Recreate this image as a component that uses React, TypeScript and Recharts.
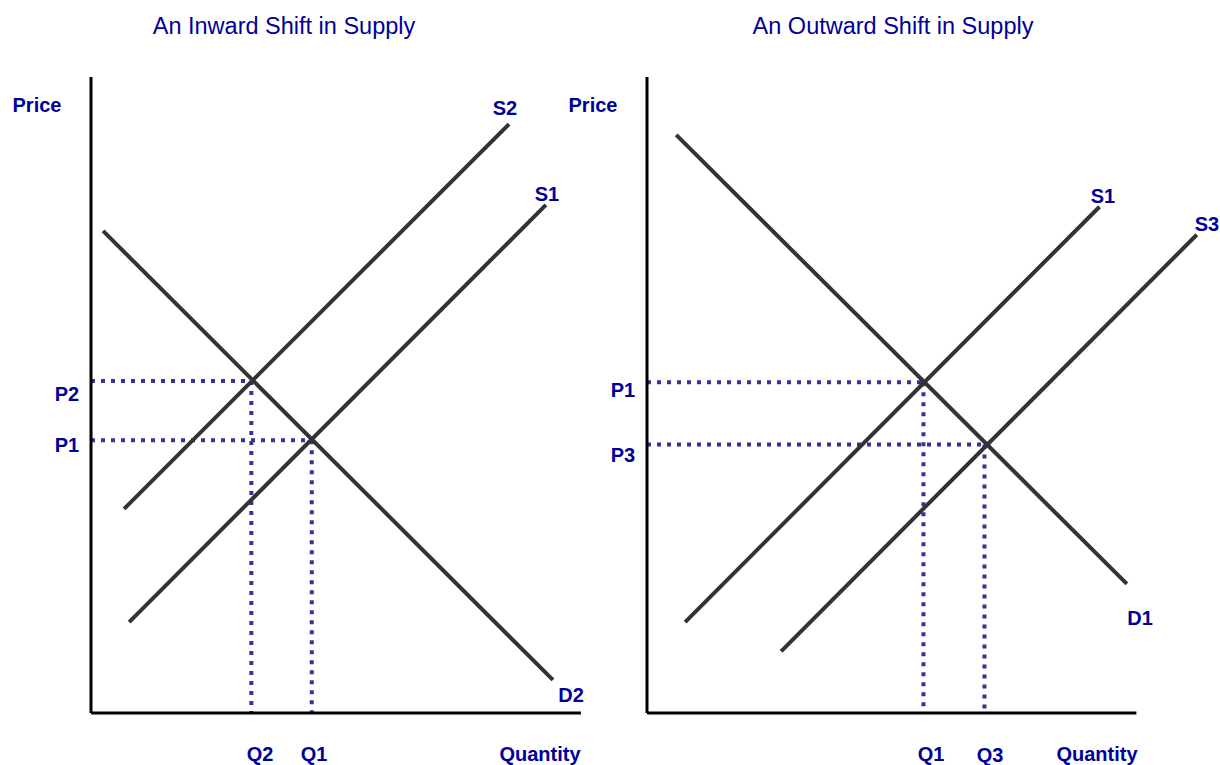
import React from "react";
import { LineChart, Line, XAxis, YAxis, ReferenceLine } from "recharts";

type Pt = { q: number; p: number };

// --- data (price / quantity units, axis origin = 0,0) ---
const inwardTitle = "An Inward Shift in Supply";
const outwardTitle = "An Outward Shift in Supply";

const inwardD2: Pt[] = [{ q: 1.9, p: 75.8 }, { q: 72.6, p: 5.2 }];
const inwardS2: Pt[] = [{ q: 5.2, p: 32.1 }, { q: 65.7, p: 92.6 }];
const inwardS1: Pt[] = [{ q: 6.0, p: 14.3 }, { q: 71.5, p: 79.9 }];
const inwardEquilibria = [
  { q: 25.2, p: 52.2, pLabel: "P2", qLabel: "Q2" },
  { q: 34.7, p: 42.9, pLabel: "P1", qLabel: "Q1" },
];

const outwardD1: Pt[] = [{ q: 4.6, p: 90.9 }, { q: 75.5, p: 20.3 }];
const outwardS1: Pt[] = [{ q: 6.0, p: 14.3 }, { q: 71.2, p: 79.6 }];
const outwardS3: Pt[] = [{ q: 21.1, p: 9.7 }, { q: 86.5, p: 75.2 }];
const outwardEquilibria = [
  { q: 43.5, p: 52.0, pLabel: "P1", qLabel: "Q1" },
  { q: 53.1, p: 42.2, pLabel: "P3", qLabel: "Q3" },
];

const axisTop = 100;
const axisRight = 77;

// --- styles ---
const FONT = "'Liberation Sans', Arial, sans-serif";
const TEXT_BLUE = "#000099";
const CURVE = "#333333";
const GUIDE = "#333399";
const W = 610;
const H = 765;

type Lbl = { text: string; x: number; y: number };

const inwardLabels: Lbl[] = [
  { text: "Price", x: 37, y: 105 },
  { text: "S2", x: 505, y: 108 },
  { text: "S1", x: 547, y: 194 },
  { text: "P2", x: 67, y: 394 },
  { text: "P1", x: 67, y: 445 },
  { text: "D2", x: 571, y: 695 },
  { text: "Q2", x: 260, y: 754 },
  { text: "Q1", x: 314, y: 754 },
  { text: "Quantity", x: 540, y: 754 },
];

const outwardLabels: Lbl[] = [
  { text: "Price", x: 593, y: 105 },
  { text: "S1", x: 1103, y: 196 },
  { text: "S3", x: 1207, y: 224 },
  { text: "P1", x: 623, y: 390 },
  { text: "P3", x: 623, y: 455 },
  { text: "D1", x: 1140, y: 618 },
  { text: "Q1", x: 931, y: 754 },
  { text: "Q3", x: 990, y: 755 },
  { text: "Quantity", x: 1097, y: 754 },
];

type PanelProps = {
  left: number;
  margin: { top: number; right: number; bottom: number; left: number };
  xMax: number;
  curves: Pt[][];
  equilibria: { q: number; p: number }[];
};

function Panel({ left, margin, xMax, curves, equilibria }: PanelProps) {
  return (
    <div style={{ position: "absolute", left, top: 0, width: W, height: H }}>
      <LineChart width={W} height={H} margin={margin}>
        <XAxis type="number" dataKey="q" domain={[0, xMax]} hide allowDataOverflow />
        <YAxis type="number" dataKey="p" domain={[0, 100]} hide allowDataOverflow />
        {equilibria.map((e, i) => (
          <ReferenceLine
            key={`h${i}`}
            segment={[{ x: 0, y: e.p }, { x: e.q, y: e.p }]}
            stroke={GUIDE}
            strokeWidth={4}
            strokeDasharray="4 6"
            ifOverflow="visible"
          />
        ))}
        {equilibria.map((e, i) => (
          <ReferenceLine
            key={`v${i}`}
            segment={[{ x: e.q, y: e.p }, { x: e.q, y: 0 }]}
            stroke={GUIDE}
            strokeWidth={4}
            strokeDasharray="4 6"
            ifOverflow="visible"
          />
        ))}
        {curves.map((c, i) => (
          <Line
            key={i}
            data={c}
            dataKey="p"
            type="linear"
            stroke={CURVE}
            strokeWidth={4}
            dot={false}
            activeDot={false}
            isAnimationActive={false}
          />
        ))}
        <ReferenceLine segment={[{ x: 0, y: 0 }, { x: 0, y: axisTop }]} stroke="#000" strokeWidth={3} ifOverflow="visible" />
        <ReferenceLine segment={[{ x: 0, y: 0 }, { x: axisRight, y: 0 }]} stroke="#000" strokeWidth={3} ifOverflow="visible" />
      </LineChart>
    </div>
  );
}

export default function App() {
  const all = [...inwardLabels, ...outwardLabels];
  return (
    <div style={{ position: "absolute", left: 0, top: 0, width: 1220, height: 765, background: "#fff", fontFamily: FONT, overflow: "hidden" }}>
      <Panel
        left={0}
        margin={{ top: 77, right: 10, bottom: 52, left: 91 }}
        xMax={80}
        curves={[inwardD2, inwardS2, inwardS1]}
        equilibria={inwardEquilibria}
      />
      <Panel
        left={610}
        margin={{ top: 77, right: 1, bottom: 52, left: 37 }}
        xMax={90}
        curves={[outwardD1, outwardS1, outwardS3]}
        equilibria={outwardEquilibria}
      />
      <div style={{ position: "absolute", left: 284, top: 26, transform: "translate(-50%,-50%)", fontSize: 23.5, color: TEXT_BLUE, whiteSpace: "nowrap" }}>
        {inwardTitle}
      </div>
      <div style={{ position: "absolute", left: 893, top: 26, transform: "translate(-50%,-50%)", fontSize: 23.5, color: TEXT_BLUE, whiteSpace: "nowrap" }}>
        {outwardTitle}
      </div>
      {all.map((l, i) => (
        <div
          key={i}
          style={{
            position: "absolute",
            left: l.x,
            top: l.y,
            transform: "translate(-50%,-50%)",
            fontSize: 20,
            fontWeight: 700,
            color: TEXT_BLUE,
            whiteSpace: "nowrap",
            lineHeight: 1,
          }}
        >
          {l.text}
        </div>
      ))}
    </div>
  );
}
